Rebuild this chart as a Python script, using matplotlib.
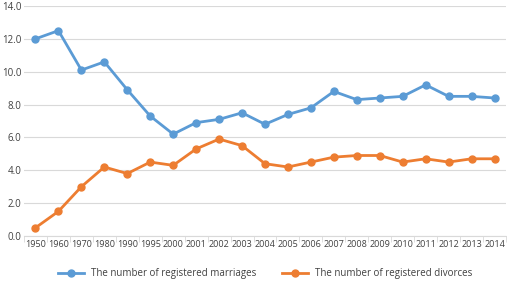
import matplotlib.pyplot as plt

# data
years = ['1950', '1960', '1970', '1980', '1990', '1995', '2000', '2001', '2002', '2003', '2004',
         '2005', '2006', '2007', '2008', '2009', '2010', '2011', '2012', '2013', '2014']
marriages = [12.0, 12.5, 10.1, 10.6, 8.9, 7.3, 6.2, 6.9, 7.1, 7.5, 6.8,
             7.4, 7.8, 8.8, 8.3, 8.4, 8.5, 9.2, 8.5, 8.5, 8.4]
divorces = [0.5, 1.5, 3.0, 4.2, 3.8, 4.5, 4.3, 5.3, 5.9, 5.5, 4.4,
            4.2, 4.5, 4.8, 4.9, 4.9, 4.5, 4.7, 4.5, 4.7, 4.7]

plt.rcParams['font.family'] = ['Open Sans', 'DejaVu Sans']

fig = plt.figure(figsize=(5.07, 2.82), dpi=100)
ax = fig.add_axes([24 / 507, 1 - 236 / 282, 482 / 507, 230 / 282])

x = range(len(years))
ax.plot(x, marriages, color='#5B9BD5', lw=2, marker='o', ms=5,
        label='The number of registered marriages', zorder=3)
ax.plot(x, divorces, color='#ED7D31', lw=2, marker='o', ms=5,
        label='The number of registered divorces', zorder=3)

ax.set_xlim(-0.5, len(years) - 0.5)
ax.set_ylim(0, 14)
ax.set_yticks([0, 2, 4, 6, 8, 10, 12, 14])
ax.set_yticklabels(['%.1f' % v for v in [0, 2, 4, 6, 8, 10, 12, 14]], fontsize=7, color='#404040')
ax.set_xticks(list(x))
ax.set_xticklabels(years, fontsize=6.5, color='#404040')
ax.set_xticks([i - 0.5 for i in range(len(years) + 1)], minor=True)
ax.tick_params(axis='x', which='major', length=0, pad=3)
ax.tick_params(axis='x', which='minor', length=4, color='#d9d9d9')
ax.tick_params(axis='y', length=0, pad=2)

ax.grid(axis='y', color='#d9d9d9', lw=0.8)
ax.set_axisbelow(True)
for s in ['top', 'right', 'left']:
    ax.spines[s].set_visible(False)
ax.spines['bottom'].set_color('#d9d9d9')

ax.legend(loc='center', bbox_to_anchor=(0.5, -0.165), ncol=2, frameon=False,
          fontsize=7, labelcolor='#404040', columnspacing=2.6, handlelength=2.7,
          handletextpad=0.7)

fig.savefig('out.png', dpi=100)
